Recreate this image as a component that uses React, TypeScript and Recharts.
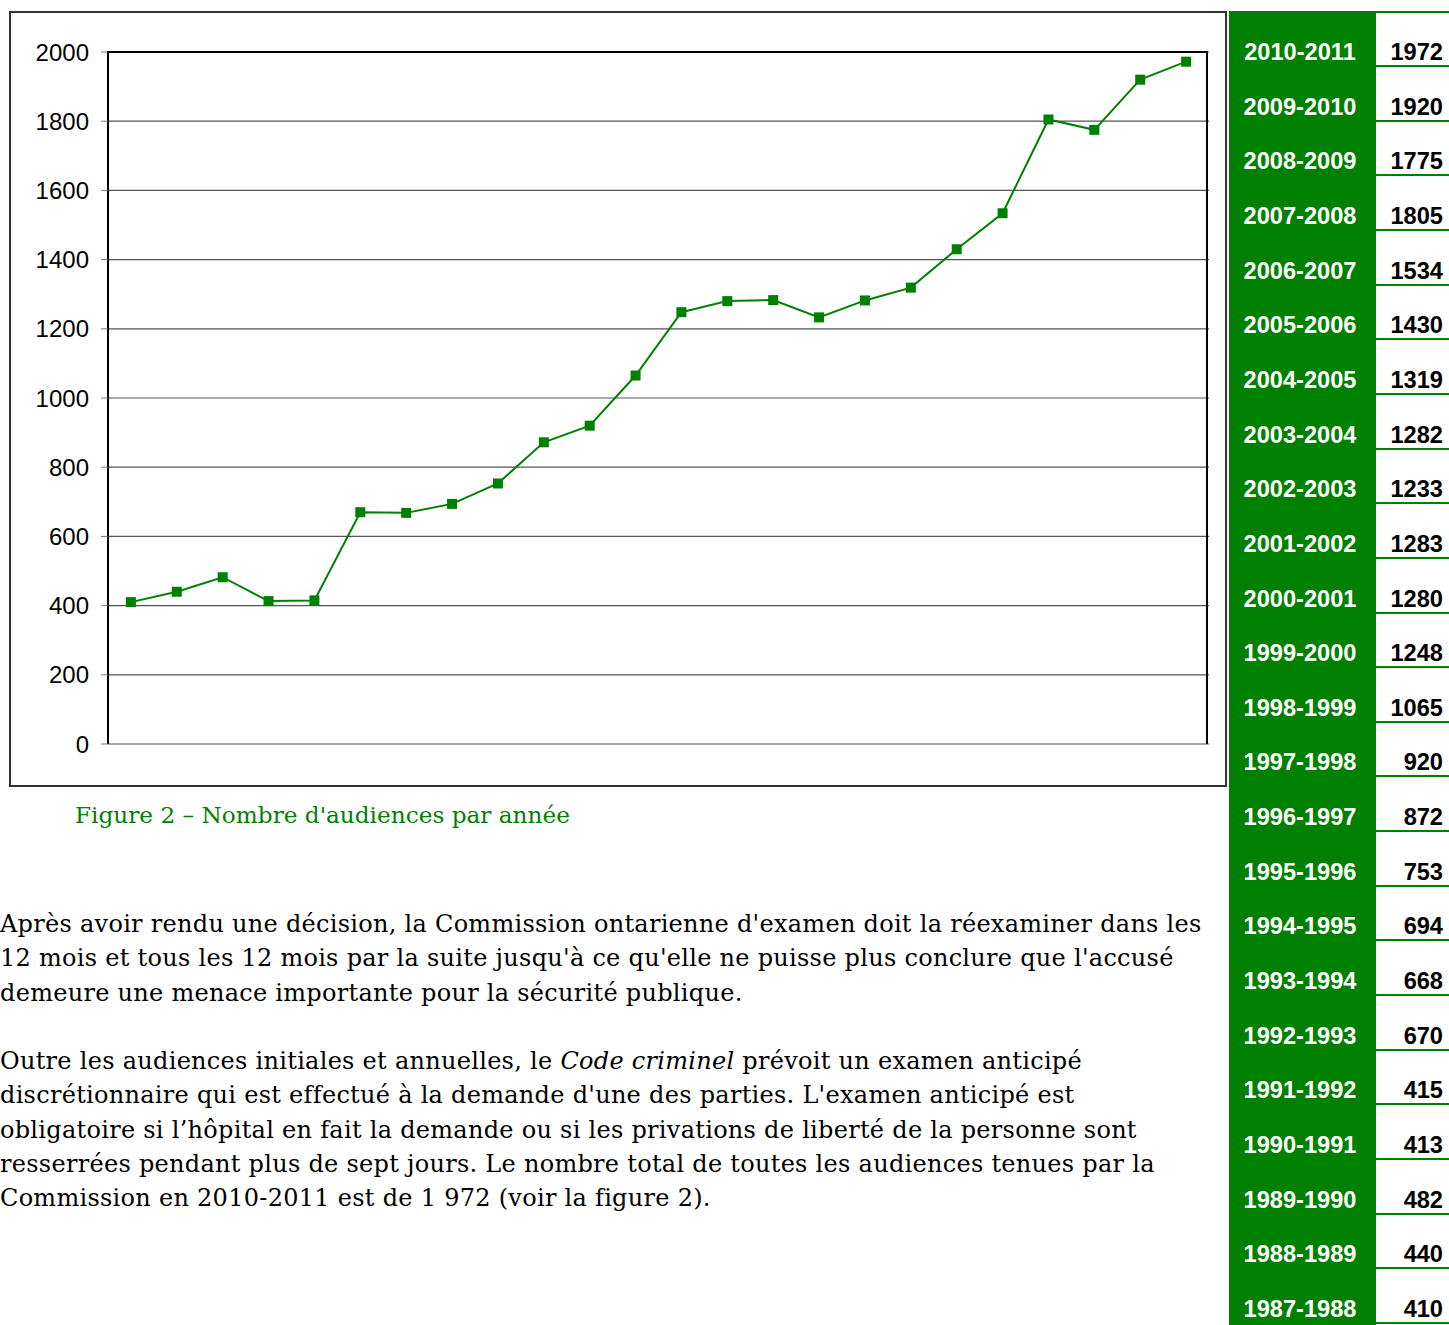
import { CartesianGrid, Line, LineChart, XAxis, YAxis } from "recharts";

const years = [
  "1987-1988", "1988-1989", "1989-1990", "1990-1991", "1991-1992", "1992-1993",
  "1993-1994", "1994-1995", "1995-1996", "1996-1997", "1997-1998", "1998-1999",
  "1999-2000", "2000-2001", "2001-2002", "2002-2003", "2003-2004", "2004-2005",
  "2005-2006", "2006-2007", "2007-2008", "2008-2009", "2009-2010", "2010-2011",
];
const hearings = [
  410, 440, 482, 413, 415, 670, 668, 694, 753, 872, 920, 1065,
  1248, 1280, 1283, 1233, 1282, 1319, 1430, 1534, 1805, 1775, 1920, 1972,
];
const yTicks = [0, 200, 400, 600, 800, 1000, 1200, 1400, 1600, 1800, 2000];

const GREEN = "#008000";
const data = years.map((y, i) => ({ year: y, value: hearings[i] }));

const SquareDot = (props: any) => {
  const { cx, cy, index } = props;
  return <rect key={`d-${index}`} x={cx - 5} y={cy - 5} width={10} height={10} fill={GREEN} />;
};

const serif = "'DejaVu Serif', 'Liberation Serif', serif";
const ROW = 54.65;

export default function App() {
  const rows = [...years].reverse().map((y, i) => ({ year: y, value: [...hearings].reverse()[i] }));
  return (
    <div style={{ position: "absolute", left: 0, top: 0, width: 1449, height: 1325, overflow: "hidden", background: "#fff" }}>
      {/* chart frame */}
      <div style={{ position: "absolute", left: 9, top: 11, width: 1218, height: 776, border: "2px solid #333", boxSizing: "border-box" }}>
        <LineChart width={1214} height={772} data={data} margin={{ top: 39, right: 16, bottom: 41, left: 0 }}>
          <CartesianGrid horizontal vertical={false} stroke="#555" strokeWidth={1.2} />
          <XAxis dataKey="year" tick={false} tickLine={false} height={0} axisLine={{ stroke: "#000", strokeWidth: 2 }} padding={{ left: 22.9, right: 22.9 }} />
          <YAxis
            domain={[0, 2000]}
            ticks={yTicks}
            interval={0}
            width={97}
            tickSize={7}
            tickMargin={12}
            axisLine={{ stroke: "#000", strokeWidth: 2 }}
            tickLine={{ stroke: "#777" }}
            tick={{ fill: "#000", fontSize: 24, fontFamily: "'Liberation Sans', Arial, sans-serif" }}
          />
          <Line type="linear" dataKey="value" stroke={GREEN} strokeWidth={2} dot={SquareDot} activeDot={false} isAnimationActive={false} />
        </LineChart>
        {/* plot border top/right */}
        <div style={{ position: "absolute", left: 96, top: 38, width: 1101, height: 693, borderTop: "2px solid #000", borderRight: "2px solid #000", boxSizing: "border-box", pointerEvents: "none" }} />
      </div>

      <div style={{ position: "absolute", left: 75, top: 801, fontFamily: serif, fontSize: 23.2, color: GREEN, whiteSpace: "nowrap" }}>
        Figure 2 – Nombre d'audiences par année
      </div>

      <div style={{ position: "absolute", left: 0, top: 907, fontFamily: serif, fontSize: 24, letterSpacing: 0.28, lineHeight: "34.3px", color: "#000", whiteSpace: "nowrap" }}>
        Après avoir rendu une décision, la Commission ontarienne d'examen doit la réexaminer dans les<br />
        12 mois et tous les 12 mois par la suite jusqu'à ce qu'elle ne puisse plus conclure que l'accusé<br />
        demeure une menace importante pour la sécurité publique.<br />
        <br />
        Outre les audiences initiales et annuelles, le <i>Code criminel</i> prévoit un examen anticipé<br />
        discrétionnaire qui est effectué à la demande d'une des parties. L'examen anticipé est<br />
        obligatoire si l’hôpital en fait la demande ou si les privations de liberté de la personne sont<br />
        resserrées pendant plus de sept jours. Le nombre total de toutes les audiences tenues par la<br />
        Commission en 2010-2011 est de 1 972 (voir la figure 2).
      </div>

      {/* side table */}
      <div style={{ position: "absolute", left: 1229, top: 11, width: 147, height: 1314, background: GREEN }} />
      <div style={{ position: "absolute", left: 1376, top: 11, width: 73, height: 2, background: GREEN }} />
      {rows.map((r, i) => (
        <div key={r.year} style={{ position: "absolute", left: 1229, top: 11 + i * ROW, width: 220, height: ROW, fontFamily: "'Liberation Sans', Arial, sans-serif", fontWeight: 700, fontSize: 23.6 }}>
          <div style={{ position: "absolute", left: 0, width: 142, top: 31, textAlign: "center", color: "#fff", lineHeight: "20px" }}>{r.year}</div>
          <div style={{ position: "absolute", right: 6, top: 31, color: "#000", lineHeight: "20px" }}>{r.value}</div>
          <div style={{ position: "absolute", left: 147, right: 0, top: 54, height: 2, background: GREEN }} />
        </div>
      ))}
    </div>
  );
}
